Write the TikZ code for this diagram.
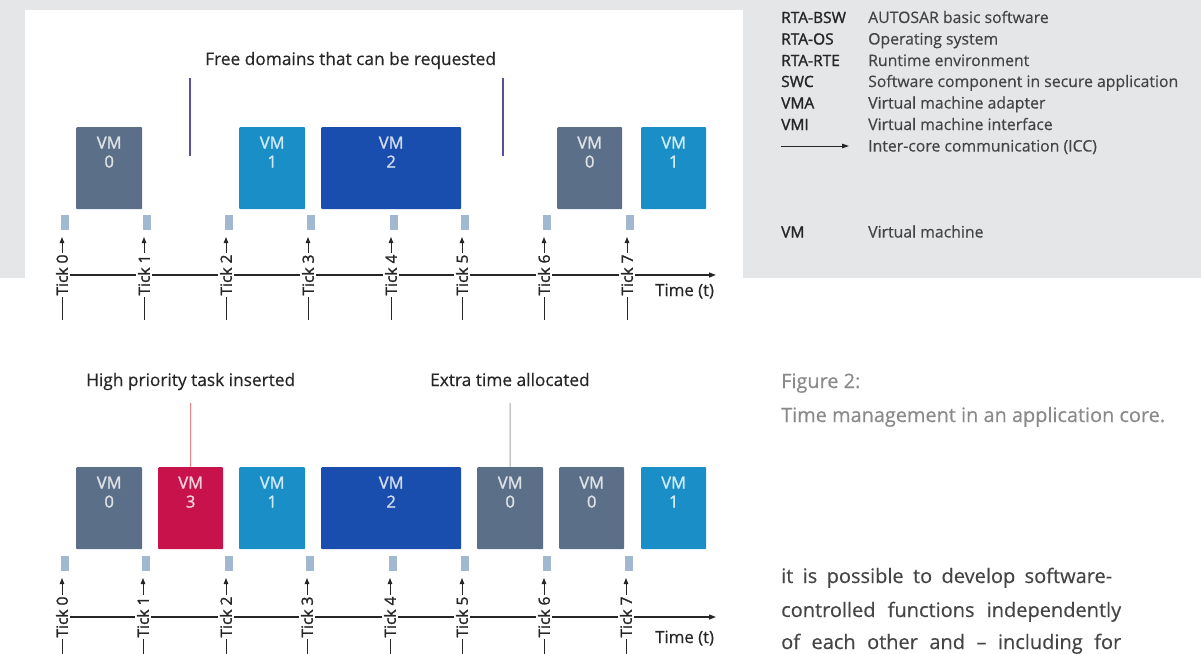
\documentclass[tikz,border=0pt]{standalone}
\usepackage{fontspec}
\setmainfont{Open Sans}[FakeBold=0.35]
\newfontfamily\strongfont{Open Sans}[FakeBold=1.5]
\usetikzlibrary{arrows.meta,calc}

\definecolor{panelgray}{HTML}{E5E6E8}
\definecolor{vmslate}{HTML}{5B7088}
\definecolor{vmcyan}{HTML}{1A8FC7}
\definecolor{vmblue}{HTML}{1A4EAE}
\definecolor{vmred}{HTML}{C8124C}
\definecolor{tickmarkcol}{HTML}{A0B8D0}
\definecolor{freeline}{HTML}{5A4E9E}
\definecolor{insertline}{HTML}{E68282}
\definecolor{extraline}{HTML}{A5A5A5}
\definecolor{inktext}{HTML}{262626}
\definecolor{legendtext}{HTML}{444444}
\definecolor{captiontext}{HTML}{8A8A8A}
\definecolor{bodytext}{HTML}{454545}

\newcommand\fsz[1]{\fontsize{#1}{#1}\selectfont}

% VM block: name, colour, left, right, top, number
\newcommand\vmblock[6]{%
  \node[vmbox, fill=#2, minimum width={#4-#3}] (#1) at (#3,#5) {};
  \node[vmtext, text=white!80!#2] (#1-name) at ($(#1.north)+(0,21.5)$) {VM};
  \node[vmtext, text=white!80!#2] (#1-num) at ($(#1.north)+(0,40.5)$) {#6};
}

% Tick: name, x, square top, arrow tip y, axis y, bottom y, number
\newcommand\tickat[7]{%
  \node[tickmark] (#1-sq) at ({#2+3},#3) {};
  \coordinate (#1-tip) at (#2,#4);
  \coordinate (#1-foot) at (#2,#6);
  \draw[tickarrow] (#1-foot) -- (#1-tip);
  \node[ticklabel] (#1) at (#2,#5) {Tick #7};
}

\begin{document}
\begin{tikzpicture}[x=1pt,y=-1pt,
  vmbox/.style={draw=none, rounded corners=1pt, minimum height=82pt, inner sep=0pt, anchor=north west},
  vmtext/.style={anchor=base, inner sep=0pt, font=\strongfont\fsz{16.5}},
  tickmark/.style={fill=tickmarkcol, minimum width=7.5pt, minimum height=15pt, inner sep=0pt, anchor=north},
  tickarrow/.style={line width=1pt, draw=inktext, -{Triangle[length=6pt,width=4.5pt]}},
  ticklabel/.style={rotate=90, fill=white, inner sep=2pt, text=inktext, font=\strongfont\fsz{15.5}},
  timeaxis/.style={line width=1.2pt, draw=inktext, -{Triangle[length=7pt,width=5pt]}},
  heading/.style={anchor=base west, inner sep=0pt, text=inktext, font=\fsz{17.3}},
  legabbr/.style={anchor=base west, inner sep=0pt, text=inktext, font=\strongfont\fsz{15.5}},
  legdesc/.style={anchor=base west, inner sep=0pt, text=legendtext, font=\fsz{15.8}},
  captext/.style={anchor=base west, inner sep=0pt, text=captiontext, font=\fsz{19.9}},
  bodyline/.style={anchor=base west, inner sep=0pt, text=bodytext, font=\fsz{20}},
]
\useasboundingbox (0,0) rectangle (1201,653);
\fill[white] (0,0) rectangle (1201,653);

% grey page panel with the white diagram card cut into it
\fill[panelgray] (0,0) rectangle (1201,278);
\fill[white] (25,10) rectangle (743,278);

% ---------- upper schedule ----------
\node[heading] (freehead) at (205,65) {Free domains that can be requested};
\coordinate (free1a) at (190,78);
\coordinate (free1b) at (190,156);
\coordinate (free2a) at (503,78);
\coordinate (free2b) at (503,156);
\draw[freeline, line width=1.6pt] (free1a) -- (free1b);
\draw[freeline, line width=1.6pt] (free2a) -- (free2b);

\vmblock{a0}{vmslate}{76}{142}{127}{0}
\vmblock{a1}{vmcyan}{239}{305}{127}{1}
\vmblock{a2}{vmblue}{321}{461}{127}{2}
\vmblock{a3}{vmslate}{557}{622}{127}{0}
\vmblock{a4}{vmcyan}{641}{706}{127}{1}

\coordinate (axA) at (62,275);
\coordinate (axB) at (716,275);
\draw[timeaxis] (axA) -- (axB);
\node[heading, font=\fsz{16.8}] (timeA) at (655,296) {Time (t)};

\tickat{ta0}{62}{215}{237}{275}{320}{0}
\tickat{ta1}{144}{215}{237}{275}{320}{1}
\tickat{ta2}{226}{215}{237}{275}{320}{2}
\tickat{ta3}{308}{215}{237}{275}{320}{3}
\tickat{ta4}{391}{215}{237}{275}{320}{4}
\tickat{ta5}{462}{215}{237}{275}{320}{5}
\tickat{ta6}{544}{215}{237}{275}{320}{6}
\tickat{ta7}{627}{215}{237}{275}{320}{7}

% ---------- lower schedule ----------
\node[heading] (insthead) at (86,386) {High priority task inserted};
\node[heading] (extrahead) at (430,386) {Extra time allocated};

\vmblock{b0}{vmslate}{76}{142}{467}{0}
\vmblock{b1}{vmred}{158}{223}{467}{3}
\vmblock{b2}{vmcyan}{239}{305}{467}{1}
\vmblock{b3}{vmblue}{321}{461}{467}{2}
\vmblock{b4}{vmslate}{477}{543}{467}{0}
\vmblock{b5}{vmslate}{559}{624}{467}{0}
\vmblock{b6}{vmcyan}{641}{706}{467}{1}

\coordinate (instTop) at (190.5,403);
\coordinate (extraTop) at (510,403);
\draw[insertline, line width=1pt] (instTop) -- (b1.north);
\draw[extraline, line width=1pt] (extraTop) -- (b4.north);

\coordinate (axC) at (62,617);
\coordinate (axD) at (716,617);
\draw[timeaxis] (axC) -- (axD);
\node[heading, font=\fsz{16.8}] (timeB) at (655,643) {Time (t)};

\tickat{tb0}{62}{556}{578}{617}{660}{0}
\tickat{tb1}{143}{556}{578}{617}{660}{1}
\tickat{tb2}{226}{556}{578}{617}{660}{2}
\tickat{tb3}{307}{556}{578}{617}{660}{3}
\tickat{tb4}{390}{556}{578}{617}{660}{4}
\tickat{tb5}{462}{556}{578}{617}{660}{5}
\tickat{tb6}{544}{556}{578}{617}{660}{6}
\tickat{tb7}{626}{556}{578}{617}{660}{7}

% ---------- legend ----------
\node[legabbr] (lg1) at (781,23) {RTA-BSW};
\node[legdesc] (ld1) at (868,23) {AUTOSAR basic software};
\node[legabbr] (lg2) at (781,44.5) {RTA-OS};
\node[legdesc] (ld2) at (868,44.5) {Operating system};
\node[legabbr] (lg3) at (781,66) {RTA-RTE};
\node[legdesc] (ld3) at (868,66) {Runtime environment};
\node[legabbr] (lg4) at (781,87) {SWC};
\node[legdesc] (ld4) at (868,87) {Software component in secure application};
\node[legabbr] (lg5) at (781,108.5) {VMA};
\node[legdesc] (ld5) at (868,108.5) {Virtual machine adapter};
\node[legabbr] (lg6) at (781,130) {VMI};
\node[legdesc] (ld6) at (868,130) {Virtual machine interface};
\coordinate (iccA) at (781,146);
\coordinate (iccB) at (849,146);
\draw[line width=0.9pt, draw=inktext, -{Triangle[length=7pt,width=4.5pt]}] (iccA) -- (iccB);
\node[legdesc] (ld7) at (868,151.5) {Inter-core communication (ICC)};
\node[legabbr] (lg8) at (781,237.5) {VM};
\node[legdesc] (ld8) at (868,237.5) {Virtual machine};

% ---------- caption and running text ----------
\node[captext] (cap1) at (781,388) {Figure 2:};
\node[captext] (cap2) at (781,422) {Time management in an application core.};

\node[bodyline] (body1) at (781,583) {\makebox[331pt][s]{it is possible to develop software-}};
\node[bodyline] (body2) at (781,617) {\makebox[340pt][s]{controlled functions independently}};
\node[bodyline] (body3) at (781,649) {\makebox[340pt][s]{of each other and – including for}};
\end{tikzpicture}
\end{document}
